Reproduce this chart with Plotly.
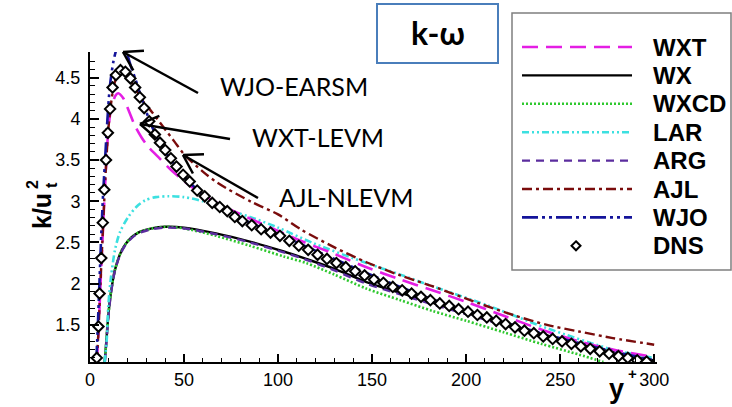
import math
import plotly.graph_objects as go

# ---------------- data ----------------
DNS_yp = [3.6, 4.5, 5.1, 6.0, 6.8, 7.6, 8.5, 9.5, 10.7, 12.0, 13.8, 16.2, 18.8, 21.5, 24.0,
          26.5, 28.8, 31.5, 34.5, 37.2, 40, 43, 46, 49.5, 53, 57, 61, 65, 69, 73, 77, 81,
          86, 91, 96, 101, 106, 111, 116, 121, 126, 131, 136, 141, 146, 151, 156, 161,
          166, 171, 176, 181, 186, 191, 196, 201, 206, 211, 216, 221, 226, 231, 236,
          241, 246, 251, 256, 261, 266, 271, 276, 281, 286, 291, 296]
DNS_k = [1.10, 1.48, 1.88, 2.31, 2.74, 3.14, 3.50, 3.83, 4.12, 4.38, 4.53, 4.59, 4.57, 4.49, 4.38,
         4.26, 4.13, 3.97, 3.81, 3.71, 3.62, 3.52, 3.42, 3.32, 3.24, 3.13, 3.06, 2.98, 2.93, 2.88,
         2.81, 2.76, 2.71, 2.66, 2.62, 2.58, 2.52, 2.46, 2.41, 2.35, 2.30, 2.25, 2.20, 2.15,
         2.10, 2.05, 2.01, 1.96, 1.92, 1.88, 1.84, 1.80, 1.76, 1.73, 1.69, 1.66, 1.62, 1.59,
         1.55, 1.51, 1.47, 1.43, 1.40, 1.36, 1.33, 1.30, 1.27, 1.24, 1.21, 1.18, 1.15, 1.12,
         1.10, 1.07, 1.055]

WX_yp = [7.8, 8.5, 9.5, 10.6, 12, 13.3, 16, 18.6, 22, 25.7, 32.8, 40, 50, 67, 85, 103, 115,
         130, 147, 165, 182, 200, 220, 240, 260, 280, 300]
WX_k = [1.05, 1.25, 1.55, 1.80, 2.02, 2.17, 2.36, 2.47, 2.56, 2.62, 2.67, 2.69, 2.68, 2.61,
        2.51, 2.39, 2.30, 2.18, 2.02, 1.89, 1.77, 1.65, 1.52, 1.39, 1.27, 1.16, 1.07]

ARG_yp = [7.9, 8.6, 9.6, 10.7, 12, 13.3, 16, 18.6, 22, 25.7, 32.8, 40, 50, 67, 85, 103, 115,
          130, 147, 165, 182, 200, 220, 240, 260, 280, 300]
ARG_k = [1.05, 1.25, 1.55, 1.80, 2.01, 2.16, 2.35, 2.46, 2.55, 2.61, 2.66, 2.68, 2.67, 2.60,
         2.50, 2.38, 2.29, 2.16, 2.00, 1.87, 1.75, 1.63, 1.50, 1.37, 1.25, 1.15, 1.06]

WXCD_yp = [7.8, 8.5, 9.5, 10.6, 12, 13.3, 16, 18.6, 22, 25.7, 32.8, 40, 50, 67, 85, 103, 115,
           130, 147, 165, 182, 200, 220, 240, 260, 273]
WXCD_k = [1.05, 1.25, 1.55, 1.80, 2.02, 2.17, 2.36, 2.47, 2.56, 2.62, 2.67, 2.69, 2.67, 2.58,
          2.46, 2.33, 2.25, 2.11, 1.94, 1.80, 1.67, 1.55, 1.41, 1.27, 1.14, 1.05]

LAR_yp = [7.8, 8.9, 9.7, 11, 13.3, 16, 20.4, 25, 29.3, 35, 42, 50, 60, 70, 85, 100, 120, 147,
          165, 182, 211, 243, 278, 300]
LAR_k = [1.05, 1.32, 1.72, 2.05, 2.41, 2.63, 2.81, 2.94, 3.01, 3.05, 3.06, 3.05, 3.00, 2.92,
         2.81, 2.68, 2.48, 2.25, 2.11, 1.97, 1.74, 1.46, 1.20, 1.10]

WXT_yp = [3.6, 4.5, 5.5, 6.5, 7.5, 8.5, 9.7, 11, 12.4, 13.8, 15, 17.7, 20.4, 24, 27.5, 31, 37,
          44, 52, 60, 70, 85, 100, 112, 130, 147, 165, 182, 200, 220, 243, 260, 278, 300]
WXT_k = [1.05, 1.40, 1.95, 2.45, 2.95, 3.40, 3.85, 4.10, 4.22, 4.29, 4.31, 4.25, 4.11, 3.91,
         3.77, 3.66, 3.52, 3.36, 3.21, 3.08, 2.95, 2.79, 2.64, 2.52, 2.36, 2.20, 2.05, 1.92,
         1.78, 1.61, 1.42, 1.30, 1.20, 1.11]

AJL_yp = [3.6, 4.5, 5.5, 6.5, 7.5, 8.5, 9.7, 11, 12.5, 14, 16, 18.5, 21, 24, 28, 33, 39, 45,
          50, 60, 68, 86, 100, 112, 130, 147, 165, 182, 207, 225, 243, 260, 278, 300]
AJL_k = [1.05, 1.42, 1.97, 2.47, 2.97, 3.42, 3.86, 4.15, 4.38, 4.50, 4.56, 4.55, 4.48, 4.37,
         4.22, 4.08, 3.90, 3.72, 3.57, 3.36, 3.22, 2.99, 2.84, 2.66, 2.44, 2.26, 2.10, 1.97,
         1.76, 1.62, 1.50, 1.42, 1.34, 1.26]

WJO_yp = [3.3, 4, 5, 6, 7, 8, 9, 10.6, 12.5, 14.2, 16.5, 19.5, 22, 24, 27, 30, 35, 40, 50, 60,
          70, 85, 100, 115, 130, 147, 165, 182, 200, 220, 240, 260, 280, 300]
WJO_k = [1.05, 1.40, 2.00, 2.60, 3.10, 3.50, 3.90, 4.40, 4.70, 4.85, 4.95, 4.80, 4.62, 4.49,
         4.28, 4.08, 3.80, 3.60, 3.30, 3.08, 2.92, 2.74, 2.60, 2.45, 2.30, 2.13, 1.96, 1.81,
         1.67, 1.53, 1.40, 1.28, 1.17, 1.07]

LEGEND_NAMES = ["WXT", "WX", "WXCD", "LAR", "ARG", "AJL", "WJO", "DNS"]
X_TICKS = [0, 50, 100, 150, 200, 250, 300]
Y_TICKS = [1.5, 2, 2.5, 3, 3.5, 4, 4.5]

# ---------------- styles ----------------
STY = {
    "WXT": dict(color="#E41EE4", dash="16px,8px", width=2.6),
    "WX": dict(color="#000000", dash="solid", width=2.4),
    "WXCD": dict(color="#2FC82F", dash="2px,2px", width=2.6),
    "LAR": dict(color="#3CE0E0", dash="7px,3px,2px,3px,2px,3px", width=2.6),
    "ARG": dict(color="#5B2D9E", dash="8px,6px", width=2.4),
    "AJL": dict(color="#7A0C0C", dash="10px,4px,3px,4px", width=2.4),
    "WJO": dict(color="#14149A", dash="16px,4px,3px,4px,3px,4px", width=2.6),
}

series = {
    "WX": (WX_yp, WX_k), "WXCD": (WXCD_yp, WXCD_k), "ARG": (ARG_yp, ARG_k),
    "LAR": (LAR_yp, LAR_k), "WXT": (WXT_yp, WXT_k), "AJL": (AJL_yp, AJL_k),
    "WJO": (WJO_yp, WJO_k),
}

fig = go.Figure()
for name in ["WX", "WXCD", "ARG", "LAR", "WXT", "AJL", "WJO"]:
    xs, ys = series[name]
    fig.add_trace(go.Scatter(x=xs, y=ys, mode="lines", name=name,
                             line=dict(shape="spline", smoothing=0.8, **STY[name]),
                             showlegend=False))
fig.add_trace(go.Scatter(x=DNS_yp, y=DNS_k, mode="markers", name="DNS", showlegend=False,
                         marker=dict(symbol="diamond", size=8, color="white",
                                     line=dict(color="black", width=2))))

# ---------------- layout helpers (pixel -> paper) ----------------
W, H = 732, 407
L, R, T, B = 90, 75, 52, 45
PW, PH = W - L - R, H - T - B


def px(x):
    return (x - L) / PW


def py(y):
    return (H - B - y) / PH


shapes = []
annos = []


def label(x, y, text, size, family, xanchor="center", angle=0):
    annos.append(dict(xref="paper", yref="paper", x=px(x), y=py(y), xanchor=xanchor,
                      yanchor="middle", showarrow=False, text=text, textangle=angle,
                      font=dict(family=family, size=size, color="black")))


# legend box
shapes.append(dict(type="rect", xref="paper", yref="paper", x0=px(512), x1=px(731),
                   y0=py(270), y1=py(13), line=dict(color="#7F7F7F", width=1.5),
                   fillcolor="white", layer="above"))
for i, name in enumerate(LEGEND_NAMES):
    yy = 47 + 28.4 * i
    if name == "DNS":
        cx, cy, s = 576, yy, 4.5
        path = "M {},{} L {},{} L {},{} L {},{} Z".format(
            px(cx), py(cy - s), px(cx + s), py(cy), px(cx), py(cy + s), px(cx - s), py(cy))
        shapes.append(dict(type="path", xref="paper", yref="paper", path=path,
                           line=dict(color="black", width=2), fillcolor="white", layer="above"))
    else:
        st = STY[name]
        shapes.append(dict(type="line", xref="paper", yref="paper", x0=px(522), x1=px(632),
                           y0=py(yy), y1=py(yy), layer="above",
                           line=dict(color=st["color"], dash=st["dash"], width=st["width"])))
    label(651, yy, "<b>%s</b>" % name, 24, "Liberation Sans, Arial", xanchor="left")

# title box k-omega
shapes.append(dict(type="rect", xref="paper", yref="paper", x0=px(377), x1=px(498),
                   y0=py(63), y1=py(4), line=dict(color="#4A7EBB", width=2),
                   fillcolor="white", layer="above"))
label(438, 32, "<b>k-ω</b>", 32, "Lato, Liberation Sans")

# model labels with arrows
labels = [("WJO-EARSM", 218, 86, (123, 52), (198, 93)),
          ("WXT-LEVM", 250, 137, (140, 124), (230, 139)),
          ("AJL-NLEVM", 277, 197, (183, 155), (258, 198))]
for text, lx, ly, tip, tail in labels:
    label(lx, ly, text, 25, "Lato, Liberation Sans", xanchor="left")
    tx, ty = tip
    sx, sy = tail
    shapes.append(dict(type="line", xref="paper", yref="paper", x0=px(sx), y0=py(sy),
                       x1=px(tx), y1=py(ty), line=dict(color="black", width=2.5),
                       layer="above"))
    dx, dy = sx - tx, sy - ty
    n = math.hypot(dx, dy)
    ux, uy = dx / n, dy / n
    for sgn in (1, -1):
        a = math.radians(32 * sgn)
        rx = ux * math.cos(a) - uy * math.sin(a)
        ry = ux * math.sin(a) + uy * math.cos(a)
        shapes.append(dict(type="line", xref="paper", yref="paper", x0=px(tx), y0=py(ty),
                           x1=px(tx + 21 * rx), y1=py(ty + 21 * ry),
                           line=dict(color="black", width=2.5), layer="above"))

# axis titles (stacked sub/superscripts)
tfont = "Liberation Sans, Arial"
label(42, 211, "<b>k/u</b>", 25, tfont, angle=-90)
label(32, 185, "<b>2</b>", 16, tfont, angle=-90)
label(51, 185, "<b>t</b>", 16, tfont, angle=-90)
label(616, 389, "<b>y</b>", 27, tfont)
label(632, 373, "<b>+</b>", 15, tfont)

fig.update_layout(
    width=W, height=H, margin=dict(l=L, r=R, t=T, b=B),
    plot_bgcolor="white", paper_bgcolor="white", showlegend=False,
    shapes=shapes, annotations=annos,
    xaxis=dict(range=[0, 301.5], tickmode="array", tickvals=X_TICKS,
               ticktext=[str(v) for v in X_TICKS], ticks="inside", ticklen=8, tickwidth=1.5,
               tickcolor="black", showline=True, linecolor="black", linewidth=2,
               showgrid=False, zeroline=False,
               minor=dict(ticks="inside", ticklen=4, tickwidth=1, tickcolor="black",
                          dtick=10, tick0=0, showgrid=False),
               tickfont=dict(family=tfont, size=18, color="black")),
    yaxis=dict(range=[1.05, 4.81], tickmode="array", tickvals=Y_TICKS,
               ticktext=[("%g" % v) for v in Y_TICKS], ticks="inside", ticklen=9, tickwidth=1.5,
               tickcolor="black", showline=True, linecolor="black", linewidth=2,
               showgrid=False, zeroline=False, ticklabelstandoff=4,
               minor=dict(ticks="inside", ticklen=5, tickwidth=1, tickcolor="black",
                          dtick=0.1, tick0=0, showgrid=False),
               tickfont=dict(family=tfont, size=18, color="black")),
)

fig.write_html("out.html")
